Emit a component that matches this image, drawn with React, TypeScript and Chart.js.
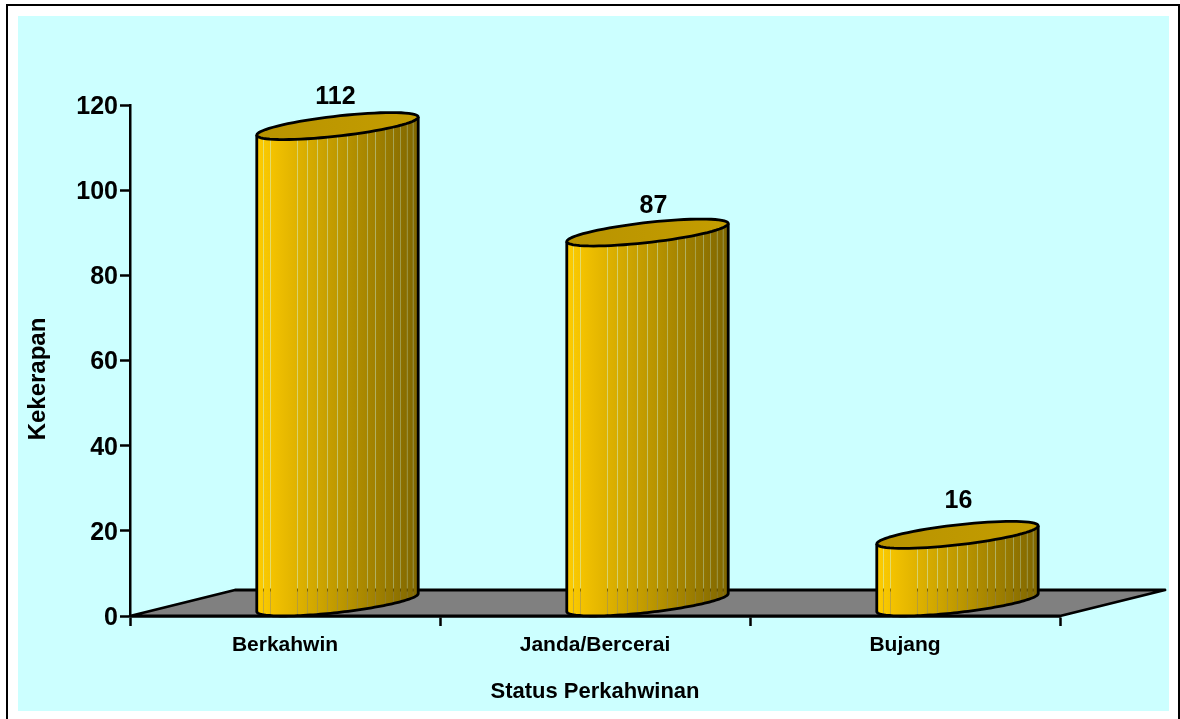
import { useEffect, useRef } from "react";
import { Chart, registerables } from "chart.js";

Chart.register(...registerables);

// Marital status counts
const categories = ["Berkahwin", "Janda/Bercerai", "Bujang"];
const frequencies = [112, 87, 16];
const yTicks = [0, 20, 40, 60, 80, 100, 120];
const yTitle = "Kekerapan";
const xTitle = "Status Perkahwinan";

const FONT = "'Liberation Sans', Arial, sans-serif";
const CANVAS_W = 1180;
const CANVAS_H = 719;

// Oblique projection of the floor and of the cylinder rims
const DEPTH_X = 105;
const DEPTH_Y = 26;
const RIM_U = 60;
const RIM_VX = 54;
const RIM_VY = 13.5;
const RIM_R = Math.hypot(RIM_U, RIM_VX);
const RIM_PHI = Math.atan2(RIM_VX, RIM_U);

// Facet boundaries around the cylinder wall, as fractions of its width
const facets = [0, 0.043, 0.086, 0.253, 0.315, 0.377, 0.438, 0.5, 0.562, 0.623, 0.685, 0.735, 0.796, 0.846, 0.889, 0.932, 0.969, 1];

// Nudges of the value captions away from their default spot above each cylinder
const captionShiftX = [-2, 6, 1];
const captionShiftY = [-42, -39, -47];

const wallColor = (f: number) => {
  const r = Math.round(255 + (127 - 255) * f);
  const g = Math.round(204 + (102 - 204) * f);
  return `rgb(${r},${g},0)`;
};

// Height of the front arc of a rim, relative to the rim centre, at width fraction f
const frontArc = (f: number) => RIM_VY * Math.sin(RIM_PHI + Math.acos(1 - 2 * f));

const rimPath = (ctx: CanvasRenderingContext2D, cx: number, cy: number, from: number, to: number, move: boolean) => {
  const n = 72;
  for (let i = 0; i <= n; i++) {
    const t = from + ((to - from) * i) / n;
    const x = cx + RIM_U * Math.cos(t) + RIM_VX * Math.sin(t);
    const y = cy - RIM_VY * Math.sin(t);
    if (i === 0 && move) ctx.moveTo(x, y);
    else ctx.lineTo(x, y);
  }
};

const drawCylinder = (ctx: CanvasRenderingContext2D, cx: number, topY: number, baseY: number) => {
  const left = cx - RIM_R;
  const width = RIM_R * 2;

  // Wall facets; the hairline left between them lets the backdrop through
  for (let i = 0; i < facets.length - 1; i++) {
    const f0 = facets[i];
    const f1 = facets[i + 1];
    const x0 = left + f0 * width;
    const x1 = left + f1 * width - (i < facets.length - 2 ? 0.3 : 0);
    const grad = ctx.createLinearGradient(x0, 0, x1, 0);
    grad.addColorStop(0, wallColor(f0));
    grad.addColorStop(1, wallColor(f1));
    ctx.fillStyle = grad;
    ctx.beginPath();
    const steps = 6;
    for (let s = 0; s <= steps; s++) {
      const f = f0 + ((f1 - f0) * s) / steps;
      const x = x0 + ((x1 - x0) * s) / steps;
      const y = topY + frontArc(f);
      if (s === 0) ctx.moveTo(x, y);
      else ctx.lineTo(x, y);
    }
    for (let s = steps; s >= 0; s--) {
      const f = f0 + ((f1 - f0) * s) / steps;
      const x = x0 + ((x1 - x0) * s) / steps;
      ctx.lineTo(x, baseY + frontArc(f));
    }
    ctx.closePath();
    ctx.fill();
  }

  ctx.strokeStyle = "#000";
  ctx.lineWidth = 2.8;
  ctx.lineJoin = "round";

  // Silhouette: both sides and the front of the base rim
  ctx.beginPath();
  const tL = Math.PI + RIM_PHI;
  const tR = 2 * Math.PI + RIM_PHI;
  const lx = cx + RIM_U * Math.cos(tL) + RIM_VX * Math.sin(tL);
  const ly = -RIM_VY * Math.sin(tL);
  ctx.moveTo(lx, topY + ly);
  rimPath(ctx, cx, baseY, tL, tR, false);
  rimPath(ctx, cx, topY, tR, tR, false);
  ctx.stroke();

  // Top cap
  const capGrad = ctx.createLinearGradient(left, 0, left + width, 0);
  capGrad.addColorStop(0, "#B89300");
  capGrad.addColorStop(1, "#C49D00");
  ctx.fillStyle = capGrad;
  ctx.beginPath();
  rimPath(ctx, cx, topY, 0, Math.PI * 2, true);
  ctx.closePath();
  ctx.fill();
  ctx.stroke();
};

const scenePlugin = {
  id: "cylinderScene",
  beforeDraw(chart: Chart) {
    const ctx = chart.ctx;
    ctx.save();
    ctx.fillStyle = "#fff";
    ctx.fillRect(0, 0, CANVAS_W, CANVAS_H);
    // Outer frame, open at the bottom
    ctx.fillStyle = "#000";
    ctx.fillRect(6, 4, CANVAS_W - 6, 2);
    ctx.fillRect(6, 4, 2, CANVAS_H - 4);
    ctx.fillRect(CANVAS_W - 2, 4, 2, CANVAS_H - 4);
    ctx.fillStyle = "#CCFFFF";
    ctx.fillRect(18, 16, 1151, 695);
    ctx.restore();
  },
  beforeDatasetsDraw(chart: Chart) {
    const ctx = chart.ctx;
    const { left, right, bottom } = chart.chartArea;
    ctx.save();
    ctx.fillStyle = "#808080";
    ctx.strokeStyle = "#000";
    ctx.lineWidth = 2.8;
    ctx.lineJoin = "round";
    ctx.beginPath();
    ctx.moveTo(left, bottom);
    ctx.lineTo(left + DEPTH_X, bottom - DEPTH_Y);
    ctx.lineTo(right + DEPTH_X, bottom - DEPTH_Y);
    ctx.lineTo(right, bottom);
    ctx.closePath();
    ctx.fill();
    ctx.stroke();
    ctx.restore();
  },
  afterDatasetsDraw(chart: Chart) {
    const ctx = chart.ctx;
    const meta = chart.getDatasetMeta(0);
    ctx.save();
    meta.data.forEach((bar: any, i: number) => {
      const cx = bar.x + DEPTH_X / 2;
      const topY = bar.y - DEPTH_Y / 2;
      const baseY = bar.base - DEPTH_Y / 2;
      drawCylinder(ctx, cx, topY, baseY);
      ctx.fillStyle = "#000";
      ctx.font = `bold 25px ${FONT}`;
      ctx.textAlign = "center";
      ctx.textBaseline = "middle";
      ctx.fillText(String(frequencies[i]), cx + captionShiftX[i], bar.y + captionShiftY[i]);
    });
    // Value-axis title, set slightly below the middle of the axis
    ctx.translate(38, 379);
    ctx.rotate(-Math.PI / 2);
    ctx.font = `bold 24px ${FONT}`;
    ctx.textAlign = "center";
    ctx.textBaseline = "middle";
    ctx.fillStyle = "#000";
    ctx.fillText(yTitle, 0, 0);
    ctx.restore();
  },
};

export default function App() {
  const ref = useRef<HTMLCanvasElement>(null);

  useEffect(() => {
    const chart = new Chart(ref.current!, {
      type: "bar",
      data: {
        labels: categories,
        datasets: [{ label: yTitle, data: frequencies, backgroundColor: "rgba(0,0,0,0)", borderWidth: 0 }],
      },
      plugins: [scenePlugin],
      options: {
        animation: false,
        responsive: false,
        layout: { padding: { left: 0, top: 105, right: 120, bottom: 0 } },
        plugins: { legend: { display: false }, tooltip: { enabled: false }, title: { display: false } },
        scales: {
          x: {
            afterFit: (s: any) => { s.height = CANVAS_H - 616; },
            grid: { offset: true, drawOnChartArea: false, tickLength: 10, tickColor: "#000", tickWidth: 2.5 },
            border: { display: true, color: "#000", width: 2.5 },
            ticks: { color: "#000", font: { family: FONT, size: 21, weight: "bold" }, padding: 7, maxRotation: 0 },
            title: { display: true, text: xTitle, color: "#000", font: { family: FONT, size: 22, weight: "bold" }, padding: { top: 0, bottom: 14 } },
          },
          y: {
            min: 0,
            max: 120,
            afterFit: (s: any) => { s.width = 130; },
            afterBuildTicks: (s: any) => { s.ticks = yTicks.map((value) => ({ value })); },
            grid: { drawOnChartArea: false, tickLength: 10, tickColor: "#000", tickWidth: 2.5 },
            border: { display: true, color: "#000", width: 2.5 },
            ticks: { color: "#000", font: { family: FONT, size: 25, weight: "bold" }, padding: 2, labelOffset: 2 },
          },
        },
      },
    } as any);
    return () => chart.destroy();
  }, []);

  return (
    <canvas
      ref={ref}
      width={CANVAS_W}
      height={CANVAS_H}
      style={{ position: "fixed", left: 0, top: 0, display: "block" }}
    />
  );
}
